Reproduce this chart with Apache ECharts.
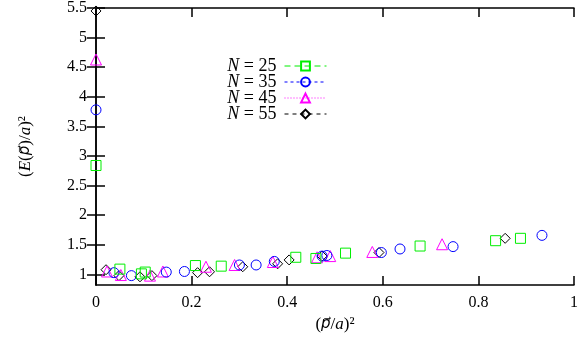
<!DOCTYPE html>
<html>
<head>
<meta charset="utf-8">
<script src="https://cdn.jsdelivr.net/npm/echarts@6/dist/echarts.min.js"></script>
<style>
  html, body { margin: 0; padding: 0; background: #fff; }
  #chart { width: 581px; height: 338px; }
</style>
</head>
<body>
<div id="chart"></div>
<script>
// points: [(p/a)^2, (E/a)^2]
const n25 = [[0, 2.84], [0.05, 1.09], [0.095, 1.01], [0.103, 1.04], [0.208, 1.15], [0.262, 1.14],
  [0.418, 1.29], [0.46, 1.27], [0.522, 1.36], [0.678, 1.48], [0.836, 1.57], [0.888, 1.61]];
const n35 = [[0, 3.78], [0.0375, 1.03], [0.074, 0.98], [0.147, 1.04], [0.185, 1.05], [0.30, 1.16],
  [0.335, 1.16], [0.373, 1.22], [0.473, 1.31], [0.483, 1.32], [0.597, 1.37], [0.636, 1.43],
  [0.747, 1.47], [0.933, 1.66]];
const n45 = [[0, 4.63], [0.023, 1.05], [0.052, 0.99], [0.113, 0.98], [0.14, 1.05], [0.23, 1.13],
  [0.29, 1.16], [0.37, 1.21], [0.4625, 1.29], [0.49, 1.31], [0.578, 1.38], [0.724, 1.51]];
const n55 = [[0, 5.45], [0.021, 1.08], [0.048, 0.98], [0.092, 0.96], [0.117, 0.98], [0.2125, 1.03],
  [0.2375, 1.045], [0.307, 1.13], [0.38, 1.18], [0.404, 1.245], [0.473, 1.31], [0.592, 1.37],
  [0.856, 1.61]];

const seriesNames = ["N = 25", "N = 35", "N = 45", "N = 55"];
const seriesColors = ["#00ee00", "#0000ff", "#ff00ff", "#000000"];
const seriesSymbols = ["rect", "circle", "triangle", "diamond"];
const seriesDash = [[6, 4], [3, 3], [1, 2], [4, 4]];
const yTicks = [1, 1.5, 2, 2.5, 3, 3.5, 4, 4.5, 5, 5.5];

const font = "Liberation Serif";
const chart = echarts.init(document.getElementById("chart"));

const allData = [n25, n35, n45, n55];

const axisLineStyle = { color: "#000", width: 1.5 };

// italic letters; vector p needs DejaVu Sans for the combining arrow
const mathRich = {
  i: { fontStyle: "italic", fontFamily: font, fontSize: 17, color: "#000" },
  v: { fontStyle: "italic", fontFamily: "DejaVu Sans", fontSize: 15, color: "#000" },
};

const option = {
  animation: false,
  textStyle: { fontFamily: font },
  grid: { left: 96, right: 5, top: 6, bottom: 51 },
  legend: {
    orient: "vertical",
    right: 249,
    top: 52,
    align: "right",
    itemWidth: 42,
    itemHeight: 11,
    itemGap: -2,
    textStyle: {
      fontFamily: font,
      fontSize: 18,
      lineHeight: 16,
      color: "#000",
      padding: [0, 3, 0, 0],
      rich: { i: { fontStyle: "italic", fontFamily: font, fontSize: 18, lineHeight: 16 } },
    },
    formatter: function (name) {
      return "{i|N} = " + name.split("= ")[1];
    },
    data: seriesNames.map((name, i) => ({
      name: name,
      lineStyle: { color: seriesColors[i], width: 1, type: seriesDash[i], opacity: 1 },
    })),
  },
  xAxis: [
    {
      type: "value",
      min: 0,
      max: 1,
      interval: 0.2,
      name: "({v|p\u20D7}/{i|a})\u00B2",
      nameLocation: "middle",
      nameGap: 30,
      nameTextStyle: { fontFamily: font, fontSize: 17, color: "#000", rich: mathRich },
      axisLine: { lineStyle: axisLineStyle },
      axisTick: { inside: true, length: 9, lineStyle: axisLineStyle },
      axisLabel: { fontFamily: font, fontSize: 16, color: "#000", margin: 10 },
      splitLine: { show: false },
    },
    {
      type: "value",
      position: "top",
      min: 0,
      max: 1,
      interval: 0.2,
      axisLine: { show: true, lineStyle: axisLineStyle },
      axisTick: { inside: true, length: 9, lineStyle: axisLineStyle },
      axisLabel: { show: false },
      splitLine: { show: false },
    },
  ],
  yAxis: [
    {
      type: "value",
      min: 0.82,
      max: 5.5,
      name: "({i|E}({v|p\u20D7})/{i|a})\u00B2",
      nameLocation: "middle",
      nameGap: 62,
      nameTextStyle: { fontFamily: font, fontSize: 17, color: "#000", rich: mathRich },
      axisLine: { show: true, lineStyle: axisLineStyle },
      axisTick: { inside: true, length: 9, lineStyle: axisLineStyle, customValues: yTicks },
      axisLabel: { fontFamily: font, fontSize: 16, color: "#000", margin: 9, customValues: yTicks },
      splitLine: { show: false },
    },
    {
      type: "value",
      position: "right",
      min: 0.82,
      max: 5.5,
      axisLine: { show: true, lineStyle: axisLineStyle },
      axisTick: { inside: true, length: 9, lineStyle: axisLineStyle, customValues: yTicks },
      axisLabel: { show: false, customValues: yTicks },
      splitLine: { show: false },
    },
  ],
  series: allData.map((data, i) => ({
    name: seriesNames[i],
    type: "line",
    data: data,
    symbol: seriesSymbols[i],
    symbolSize: i === 2 ? 11 : 10,
    color: seriesColors[i],
    itemStyle: { color: "rgba(255,255,255,0)", borderColor: seriesColors[i], borderWidth: 1 },
    lineStyle: { opacity: 0 },
    z: 10 - i,
  })),
};

chart.setOption(option);
</script>
</body>
</html>
